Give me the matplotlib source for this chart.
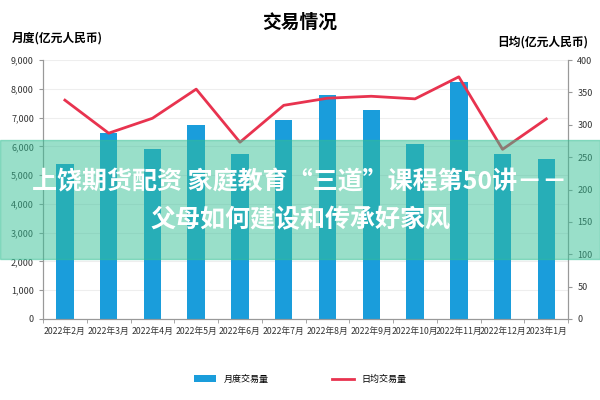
import matplotlib
matplotlib.use('Agg')
import matplotlib.pyplot as plt
import numpy as np
from matplotlib.patches import Rectangle

plt.rcParams['font.family'] = ['Noto Sans CJK SC', 'DejaVu Sans']

# 数据
months = ['2022年2月', '2022年3月', '2022年4月', '2022年5月', '2022年6月', '2022年7月',
          '2022年8月', '2022年9月', '2022年10月', '2022年11月', '2022年12月', '2023年1月']
monthly = [5400, 6480, 5900, 6750, 5730, 6900, 7800, 7250, 6080, 8250, 5750, 5550]
daily = [338, 287, 310, 355, 273, 330, 341, 344, 340, 374, 262, 309]

bar_color = '#1a9ddb'
line_color = '#e8334f'

fig = plt.figure(figsize=(6, 4), dpi=100)
ax = fig.add_axes([0.0717, 0.2025, 0.8753, 0.6475])
ax2 = ax.twinx()

x = np.arange(len(months))
ax.bar(x, monthly, width=0.4, color=bar_color, zorder=2, label='月度交易量')
ax2.plot(x, daily, color=line_color, linewidth=2, label='日均交易量')

ax.set_xlim(-0.5, len(months) - 0.5)
ax.set_ylim(0, 9000)
ax2.set_ylim(0, 400)
ax.set_yticks(np.arange(0, 9001, 1000))
ax.set_yticklabels([f'{v:,}' for v in range(0, 9001, 1000)])
ax2.set_yticks(np.arange(0, 401, 50))
ax.set_xticks(x)
ax.set_xticklabels(months)
ax.set_xticks(np.arange(-0.5, len(months), 1), minor=True)

ax.grid(axis='y', color='#eeeeee', linewidth=0.8, zorder=0)
ax.set_axisbelow(True)
for a in (ax, ax2):
    a.spines['top'].set_visible(False)
for s in ('left', 'right', 'bottom'):
    ax.spines[s].set_color('#999999')
    ax2.spines[s].set_color('#999999')
ax.tick_params(axis='x', which='major', length=0, labelsize=6.3, colors='#333333', pad=6)
ax.tick_params(axis='x', which='minor', length=3, color='#999999')
ax.tick_params(axis='y', labelsize=6.5, colors='#333333', length=3, color='#999999')
ax2.tick_params(axis='y', labelsize=6.5, colors='#333333', length=3, color='#999999')

fig.text(0.5, 0.945, '交易情况', ha='center', va='center', fontsize=13.5, fontweight='bold')
fig.text(0.02, 0.905, '月度(亿元人民币)', ha='left', va='center', fontsize=8.5, fontweight='bold')
fig.text(0.98, 0.895, '日均(亿元人民币)', ha='right', va='center', fontsize=8.5, fontweight='bold')

# 图例
h1, l1 = ax.get_legend_handles_labels()
h2, l2 = ax2.get_legend_handles_labels()
fig.legend(h1 + h2, l1 + l2, loc='center', bbox_to_anchor=(0.5, 0.052), ncol=2,
           frameon=False, fontsize=6.5, columnspacing=7, handlelength=2.5)

# 半透明水印条
fig.patches.append(Rectangle((0, 0.3525), 1, 0.2975, transform=fig.transFigure,
                             color='#35c095', alpha=0.5, zorder=10))
fig.text(0.5, 0.545, '上饶期货配资 家庭教育“三道”课程第50讲－－', ha='center', va='center',
         fontsize=18, fontweight='bold', color='white', zorder=11)
fig.text(0.5, 0.45, '父母如何建设和传承好家风', ha='center', va='center',
         fontsize=18, fontweight='bold', color='white', zorder=11)

fig.savefig('out.png', dpi=100)
